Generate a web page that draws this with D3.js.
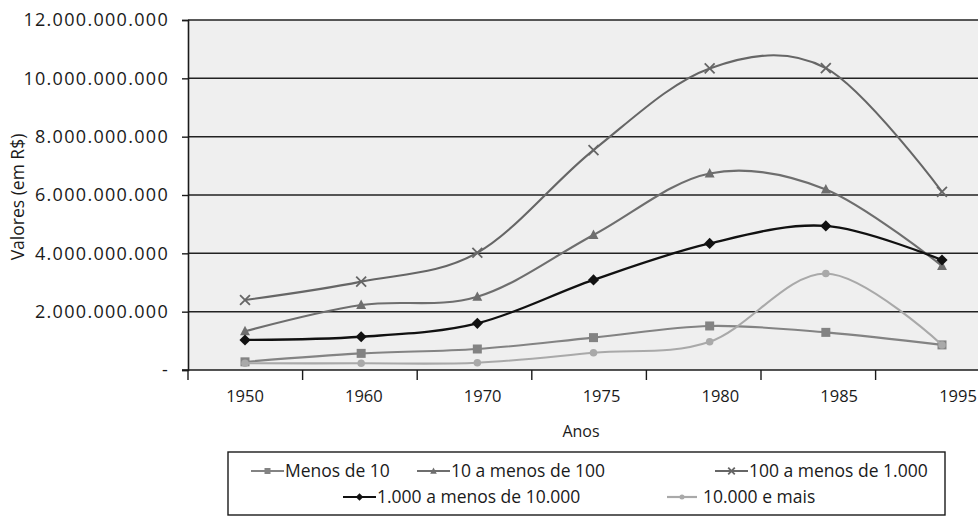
<!DOCTYPE html>
<html>
<head>
<meta charset="utf-8">
<script src="https://cdn.jsdelivr.net/npm/d3@7"></script>
<style>
  html, body { margin: 0; padding: 0; background: #ffffff; }
  svg { display: block; }
  text { font-family: "Open Sans", "DejaVu Sans", sans-serif; fill: #1a1a1a; }
</style>
</head>
<body>
<svg id="chart" width="978" height="521"></svg>
<script>
// ---- Data ----
const years = ["1950", "1960", "1970", "1975", "1980", "1985", "1995"];
const menosDe10      = [0.28e9, 0.57e9, 0.72e9, 1.11e9, 1.51e9, 1.29e9, 0.86e9];
const de10a100       = [1.33e9, 2.23e9, 2.51e9, 4.63e9, 6.74e9, 6.19e9, 3.57e9];
const de100a1000     = [2.40e9, 3.03e9, 4.02e9, 7.54e9, 10.34e9, 10.35e9, 6.11e9];
const de1000a10000   = [1.03e9, 1.14e9, 1.60e9, 3.09e9, 4.34e9, 4.94e9, 3.77e9];
const de10000eMais   = [0.23e9, 0.23e9, 0.25e9, 0.59e9, 0.97e9, 3.31e9, 0.86e9];
const seriesNames = ["Menos de 10", "10 a menos de 100", "100 a menos de 1.000", "1.000 a menos de 10.000", "10.000 e mais"];
const yTicks = [0, 2e9, 4e9, 6e9, 8e9, 10e9, 12e9];
const xTitle = "Anos";
const yTitle = "Valores (em R$)";

const seriesData = [menosDe10, de10a100, de100a1000, de1000a10000, de10000eMais];
const seriesStyle = [
  { color: "#838383", marker: "square" },
  { color: "#6e6e6e", marker: "triangle" },
  { color: "#666666", marker: "cross" },
  { color: "#111111", marker: "diamond" },
  { color: "#a9a9a9", marker: "circle" }
];

(function () {
// ---- Layout ----
const svg = d3.select("#chart");
const pLeft = 188, pTop = 20, pBottom = 370;
const band = 114.6;
const pRight = pLeft + band * years.length;

const loc = d3.formatLocale({ decimal: ",", thousands: ".", grouping: [3], currency: ["R$", ""] });
const fmt = loc.format(",.0f");

// category bands (for tick marks), data point positions and label positions
const xBand = d3.scaleBand().domain(years).range([pLeft, pRight]).paddingInner(0).paddingOuter(0);
const xPt = d3.scalePoint().domain(years).range([245, 942]);
const xLab = d3.scalePoint().domain(years).range([245, 958]);
const y = d3.scaleLinear().domain([0, 12e9]).range([pBottom, pTop]);

// plot background
svg.append("rect").attr("x", pLeft).attr("y", pTop).attr("width", pRight - pLeft).attr("height", pBottom - pTop)
  .attr("fill", "#efefef");

// gridlines
svg.append("g").selectAll("line").data(yTicks.filter(d => d > 0)).join("line")
  .attr("x1", pLeft).attr("x2", pRight)
  .attr("y1", d => y(d)).attr("y2", d => y(d))
  .attr("stroke", "#222222").attr("stroke-width", 1.5);

// y axis
const yAxis = d3.axisLeft(y).tickValues(yTicks).tickSize(6).tickPadding(13)
  .tickFormat(d => d === 0 ? "-" : fmt(d));
const gy = svg.append("g").attr("transform", `translate(${pLeft},0)`).call(yAxis);
gy.select(".domain").attr("stroke", "#1a1a1a").attr("stroke-width", 1.6);
gy.selectAll(".tick line").attr("stroke", "#1a1a1a").attr("stroke-width", 1.4);
gy.selectAll(".tick text").attr("font-size", 18).attr("letter-spacing", 1.3)
  .attr("font-family", "'Open Sans', sans-serif").attr("fill", "#1a1a1a");

// x axis (ticks between categories)
const gx = svg.append("g").attr("transform", `translate(0,${pBottom})`);
gx.append("line").attr("x1", pLeft - 6).attr("x2", pRight).attr("y1", 0).attr("y2", 0)
  .attr("stroke", "#1a1a1a").attr("stroke-width", 1.6);
gx.selectAll("line.tk").data(years).join("line").attr("class", "tk")
  .attr("x1", d => xBand(d)).attr("x2", d => xBand(d)).attr("y1", 0).attr("y2", 10)
  .attr("stroke", "#1a1a1a").attr("stroke-width", 1.4);
gx.selectAll("text").data(years).join("text")
  .attr("x", d => xLab(d)).attr("y", 32)
  .attr("text-anchor", "middle").attr("font-size", 16.5).text(d => d);

// axis titles
svg.append("text").attr("x", 581).attr("y", 437).attr("text-anchor", "middle").attr("font-size", 16).text(xTitle);
svg.append("text").attr("transform", "translate(24,197) rotate(-90)").attr("text-anchor", "middle")
  .attr("font-size", 17.5).text(yTitle);

// markers
function drawMarker(g, type, color, cx, cy, s) {
  if (type === "square") {
    g.append("rect").attr("x", cx - s / 2).attr("y", cy - s / 2).attr("width", s).attr("height", s).attr("fill", color);
  } else if (type === "triangle") {
    g.append("path").attr("d", `M${cx},${cy - s * 0.6}L${cx + s * 0.55},${cy + s * 0.45}L${cx - s * 0.55},${cy + s * 0.45}Z`).attr("fill", color);
  } else if (type === "cross") {
    const h = s * 0.55;
    g.append("path").attr("d", `M${cx - h},${cy - h}L${cx + h},${cy + h}M${cx - h},${cy + h}L${cx + h},${cy - h}`)
      .attr("stroke", color).attr("stroke-width", 1.8).attr("fill", "none");
  } else if (type === "diamond") {
    const h = s * 0.62;
    g.append("path").attr("d", `M${cx},${cy - h}L${cx + h},${cy}L${cx},${cy + h}L${cx - h},${cy}Z`).attr("fill", color);
  } else if (type === "circle") {
    g.append("circle").attr("cx", cx).attr("cy", cy).attr("r", s * 0.42).attr("fill", color);
  }
}

// lines
const line = d3.line()
  .x((d, i) => xPt(years[i]))
  .y(d => y(d))
  .curve(d3.curveCardinal.tension(0));

const plotG = svg.append("g");
seriesData.forEach((vals, si) => {
  const st = seriesStyle[si];
  plotG.append("path").datum(vals).attr("d", line)
    .attr("fill", "none").attr("stroke", st.color).attr("stroke-width", si === 3 ? 2.3 : 2.1);
  const mg = plotG.append("g");
  vals.forEach((v, i) => drawMarker(mg, st.marker, st.color, xPt(years[i]), y(v), 9));
});

// legend
const lg = svg.append("g");
lg.append("rect").attr("x", 228).attr("y", 452).attr("width", 717).attr("height", 63)
  .attr("fill", "#ffffff").attr("stroke", "#1a1a1a").attr("stroke-width", 1.4);
const legendPos = [
  { x: 251, y: 471 },
  { x: 417, y: 471 },
  { x: 715, y: 471 },
  { x: 343, y: 497 },
  { x: 667, y: 497 }
];
seriesNames.forEach((name, si) => {
  const st = seriesStyle[si];
  const p = legendPos[si];
  const w = si === 4 ? 30 : 33;
  lg.append("line").attr("x1", p.x).attr("x2", p.x + w).attr("y1", p.y).attr("y2", p.y)
    .attr("stroke", st.color).attr("stroke-width", 2.2);
  drawMarker(lg, st.marker, st.color, p.x + w / 2, p.y, 6);
  lg.append("text").attr("x", p.x + w + (si === 4 ? 6 : 1)).attr("y", p.y).attr("dy", "0.35em")
    .attr("font-size", 17.5).text(name);
});
})();
</script>
</body>
</html>
